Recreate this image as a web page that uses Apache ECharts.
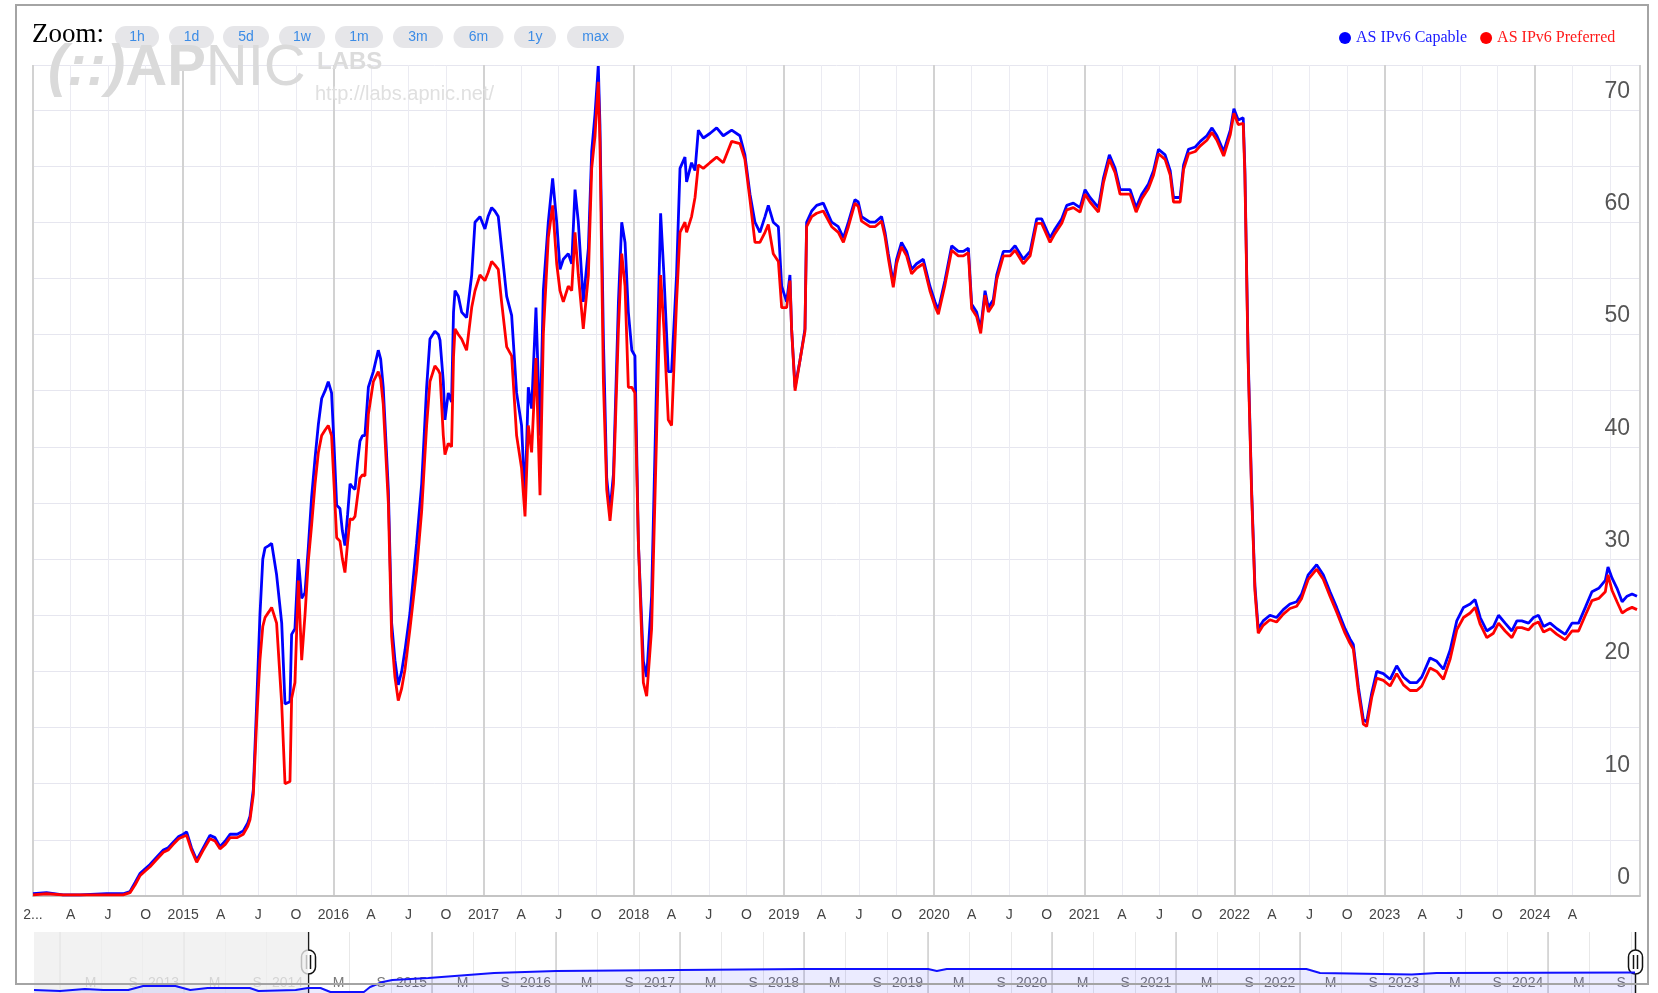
<!DOCTYPE html>
<html>
<head>
<meta charset="utf-8">
<title>AS IPv6 Capable / Preferred</title>
<script src="https://cdn.jsdelivr.net/npm/echarts@6/dist/echarts.min.js"></script>
<style>
  html, body { margin: 0; padding: 0; background: #fff; }
  #chart { width: 1658px; height: 993px; }
</style>
</head>
<body>
<div id="chart"></div>
<script>
// x values are decimal years (2015.5 = start of July 2015)
const years = [
  2014.000, 2014.090, 2014.200, 2014.313, 2014.490, 2014.600, 2014.646, 2014.680, 2014.712, 2014.745,
  2014.779, 2014.820, 2014.868, 2014.900, 2014.934, 2014.970, 2015.001, 2015.023, 2015.055, 2015.090,
  2015.130, 2015.178, 2015.212, 2015.245, 2015.280, 2015.312, 2015.360, 2015.400, 2015.430, 2015.445,
  2015.467, 2015.489, 2015.511, 2015.530, 2015.545, 2015.570, 2015.589, 2015.622, 2015.656, 2015.678,
  2015.711, 2015.722, 2015.744, 2015.767, 2015.789, 2015.811, 2015.833, 2015.855, 2015.878, 2015.900,
  2015.922, 2015.945, 2015.966, 2015.988, 2016.005, 2016.022, 2016.044, 2016.060, 2016.077, 2016.095,
  2016.111, 2016.128, 2016.144, 2016.160, 2016.177, 2016.194, 2016.210, 2016.233, 2016.266, 2016.299,
  2016.315, 2016.332, 2016.366, 2016.388, 2016.410, 2016.432, 2016.455, 2016.477, 2016.510, 2016.554,
  2016.588, 2016.621, 2016.643, 2016.676, 2016.699, 2016.710, 2016.732, 2016.743, 2016.765, 2016.787,
  2016.800, 2016.810, 2016.832, 2016.854, 2016.887, 2016.921, 2016.943, 2016.976, 2017.009, 2017.030,
  2017.054, 2017.075, 2017.098, 2017.120, 2017.154, 2017.187, 2017.220, 2017.253, 2017.276, 2017.298,
  2017.320, 2017.349, 2017.376, 2017.398, 2017.431, 2017.460, 2017.487, 2017.509, 2017.531, 2017.564,
  2017.587, 2017.609, 2017.631, 2017.664, 2017.698, 2017.720, 2017.742, 2017.764, 2017.775, 2017.798,
  2017.820, 2017.842, 2017.865, 2017.898, 2017.920, 2017.942, 2017.964, 2017.987, 2018.008, 2018.031,
  2018.064, 2018.086, 2018.119, 2018.152, 2018.179, 2018.201, 2018.230, 2018.252, 2018.285, 2018.308,
  2018.341, 2018.352, 2018.385, 2018.408, 2018.430, 2018.463, 2018.507, 2018.552, 2018.596, 2018.652,
  2018.707, 2018.740, 2018.774, 2018.807, 2018.840, 2018.874, 2018.896, 2018.929, 2018.963, 2018.985,
  2019.018, 2019.040, 2019.051, 2019.074, 2019.107, 2019.140, 2019.151, 2019.185, 2019.218, 2019.262,
  2019.318, 2019.362, 2019.396, 2019.429, 2019.473, 2019.495, 2019.517, 2019.573, 2019.606, 2019.650,
  2019.673, 2019.695, 2019.728, 2019.750, 2019.783, 2019.817, 2019.850, 2019.883, 2019.928, 2019.972,
  2020.006, 2020.028, 2020.072, 2020.117, 2020.161, 2020.195, 2020.228, 2020.250, 2020.283, 2020.310,
  2020.339, 2020.361, 2020.394, 2020.417, 2020.461, 2020.506, 2020.539, 2020.594, 2020.639, 2020.683,
  2020.716, 2020.772, 2020.805, 2020.850, 2020.883, 2020.927, 2020.972, 2021.005, 2021.038, 2021.094,
  2021.127, 2021.167, 2021.205, 2021.238, 2021.272, 2021.305, 2021.345, 2021.383, 2021.427, 2021.461,
  2021.494, 2021.538, 2021.572, 2021.594, 2021.638, 2021.661, 2021.694, 2021.739, 2021.772, 2021.816,
  2021.850, 2021.883, 2021.928, 2021.972, 2021.996, 2022.025, 2022.058, 2022.069, 2022.091, 2022.114,
  2022.136, 2022.158, 2022.191, 2022.236, 2022.280, 2022.325, 2022.369, 2022.414, 2022.447, 2022.491,
  2022.547, 2022.591, 2022.636, 2022.680, 2022.736, 2022.769, 2022.791, 2022.825, 2022.858, 2022.880,
  2022.914, 2022.947, 2022.991, 2023.036, 2023.080, 2023.125, 2023.169, 2023.214, 2023.247, 2023.302,
  2023.347, 2023.391, 2023.436, 2023.480, 2023.525, 2023.569, 2023.602, 2023.636, 2023.680, 2023.724,
  2023.758, 2023.802, 2023.847, 2023.880, 2023.913, 2023.958, 2023.991, 2024.024, 2024.058, 2024.102,
  2024.147, 2024.202, 2024.247, 2024.291, 2024.336, 2024.380, 2024.425, 2024.469, 2024.487, 2024.514,
  2024.547, 2024.581, 2024.614, 2024.647, 2024.680
];

// AS IPv6 Capable (%)
const capable = [
  0.2, 0.3, 0.1, 0.1, 0.2, 0.2, 0.4, 1.2, 2.0, 2.4,
  2.8, 3.4, 4.1, 4.3, 4.8, 5.3, 5.5, 5.7, 4.3, 3.2,
  4.2, 5.4, 5.2, 4.4, 4.9, 5.5, 5.5, 5.8, 6.5, 7.1,
  9.5, 17.0, 25.0, 30.0, 31.0, 31.2, 31.4, 28.6, 24.3, 17.1,
  17.3, 23.3, 23.8, 30.0, 26.5, 27.0, 31.0, 35.5, 39.0, 42.0,
  44.3, 45.0, 45.8, 44.8, 40.0, 34.8, 34.5, 32.5, 31.2, 34.0,
  36.7, 36.4, 36.2, 38.5, 40.5, 41.0, 41.0, 45.3, 46.7, 48.6,
  47.8, 45.3, 36.2, 24.3, 21.0, 18.8, 20.0, 21.9, 25.2, 31.4,
  36.7, 45.3, 49.6, 50.3, 50.0, 49.5, 45.8, 42.4, 44.8, 44.0,
  52.0, 53.9, 53.4, 52.0, 51.5, 55.3, 60.0, 60.5, 59.4, 60.5,
  61.3, 61.0, 60.5, 57.7, 53.4, 51.7, 44.8, 41.9, 35.3, 45.3,
  43.4, 52.4, 41.0, 53.9, 60.0, 63.9, 60.0, 55.8, 56.7, 57.2,
  56.3, 62.9, 60.0, 52.9, 57.7, 66.3, 69.6, 73.9, 68.7, 49.6,
  37.2, 34.3, 37.6, 52.9, 60.0, 58.2, 52.0, 48.6, 48.1, 31.4,
  20.9, 19.5, 26.7, 45.8, 60.8, 55.3, 46.7, 46.7, 55.3, 64.8,
  65.8, 63.6, 65.3, 64.6, 68.2, 67.5, 67.9, 68.4, 67.7, 68.2,
  67.7, 66.0, 62.5, 60.0, 59.1, 60.5, 61.5, 60.0, 59.6, 54.3,
  52.9, 55.3, 50.5, 45.3, 47.7, 50.5, 60.0, 61.0, 61.5, 61.7,
  60.0, 59.6, 58.6, 60.0, 62.0, 61.8, 60.5, 60.0, 60.0, 60.5,
  59.1, 57.2, 54.6, 56.7, 58.2, 57.4, 55.8, 56.3, 56.7, 54.3,
  52.9, 52.2, 54.8, 57.9, 57.4, 57.4, 57.7, 52.7, 52.0, 50.5,
  53.9, 52.4, 53.1, 55.3, 57.4, 57.4, 57.9, 56.7, 57.4, 60.3,
  60.3, 58.6, 59.4, 60.3, 61.5, 61.7, 61.3, 62.9, 62.2, 61.3,
  63.9, 66.0, 64.8, 62.9, 62.9, 62.9, 61.3, 62.5, 63.4, 64.6,
  66.5, 66.0, 64.6, 62.2, 62.2, 65.1, 66.5, 66.7, 67.2, 67.7,
  68.4, 67.7, 66.3, 68.2, 70.1, 69.1, 69.3, 64.8, 48.1, 36.2,
  27.6, 23.8, 24.5, 25.0, 24.8, 25.5, 26.0, 26.2, 26.9, 28.6,
  29.5, 28.6, 27.1, 25.7, 23.8, 22.9, 22.4, 18.6, 15.7, 15.5,
  18.1, 20.0, 19.8, 19.3, 20.5, 19.5, 19.0, 19.0, 19.5, 21.2,
  20.9, 20.2, 21.9, 24.5, 25.7, 26.0, 26.4, 24.8, 23.6, 24.0,
  25.0, 24.3, 23.6, 24.5, 24.5, 24.3, 24.8, 25.0, 24.0, 24.3,
  23.8, 23.3, 24.3, 24.3, 25.7, 27.1, 27.4, 28.1, 29.3, 28.3,
  27.4, 26.2, 26.7, 26.9, 26.7
];

// AS IPv6 Preferred (%)
const preferred = [
  0.1, 0.2, 0.1, 0.1, 0.1, 0.1, 0.3, 1.0, 1.8, 2.2,
  2.6, 3.2, 3.9, 4.1, 4.6, 5.1, 5.3, 5.4, 4.1, 3.0,
  4.0, 5.1, 4.9, 4.2, 4.6, 5.2, 5.2, 5.5, 6.2, 6.8,
  9.0, 15.5, 21.0, 24.0, 24.8, 25.3, 25.7, 24.3, 17.1, 10.0,
  10.2, 17.6, 19.0, 28.1, 21.0, 25.0, 29.8, 33.0, 36.7, 39.5,
  41.0, 41.5, 41.9, 41.0, 36.5, 31.9, 31.6, 30.0, 28.8, 31.5,
  33.6, 33.5, 33.8, 35.5, 37.2, 37.5, 37.4, 42.9, 45.8, 46.7,
  46.0, 43.8, 35.0, 23.1, 19.5, 17.4, 18.5, 20.2, 23.8, 29.0,
  34.3, 41.9, 45.8, 47.2, 46.8, 46.5, 41.0, 39.3, 40.3, 40.0,
  48.0, 50.5, 50.0, 49.6, 48.6, 52.4, 53.9, 55.3, 54.8, 55.5,
  56.5, 56.2, 55.8, 52.9, 48.9, 48.1, 41.0, 38.1, 33.8, 41.9,
  39.5, 47.9, 35.7, 50.0, 58.6, 61.5, 56.3, 53.9, 52.9, 54.3,
  53.9, 59.1, 55.3, 50.5, 55.3, 64.8, 67.7, 72.5, 67.2, 45.8,
  36.2, 33.4, 36.7, 50.5, 57.2, 54.3, 45.3, 45.3, 44.8, 31.4,
  19.0, 17.8, 23.8, 41.0, 55.3, 50.5, 42.4, 41.9, 52.9, 59.1,
  60.0, 59.1, 60.5, 62.2, 65.1, 64.8, 65.3, 65.8, 65.3, 67.2,
  67.0, 65.6, 62.0, 58.2, 58.2, 59.1, 59.8, 57.2, 56.5, 52.4,
  52.4, 54.8, 50.5, 45.0, 47.7, 50.3, 59.6, 60.5, 60.8, 61.0,
  59.6, 59.1, 58.2, 59.6, 61.7, 61.4, 60.1, 59.6, 59.6, 60.1,
  58.7, 56.8, 54.2, 56.3, 57.8, 57.0, 55.4, 55.9, 56.3, 53.9,
  52.5, 51.8, 54.4, 57.5, 57.0, 57.0, 57.3, 52.3, 51.6, 50.1,
  53.5, 52.0, 52.7, 54.9, 57.0, 57.0, 57.5, 56.3, 57.0, 59.9,
  59.9, 58.2, 59.0, 59.9, 61.1, 61.3, 60.9, 62.5, 61.8, 60.9,
  63.5, 65.6, 64.4, 62.5, 62.5, 62.5, 60.9, 62.1, 63.0, 64.2,
  66.1, 65.6, 64.2, 61.8, 61.8, 64.7, 66.1, 66.3, 66.8, 67.3,
  68.0, 67.3, 65.9, 67.8, 69.7, 68.7, 68.8, 64.3, 47.6, 35.8,
  27.2, 23.4, 24.1, 24.6, 24.4, 25.1, 25.6, 25.8, 26.5, 28.2,
  29.1, 28.2, 26.7, 25.3, 23.4, 22.5, 22.0, 18.2, 15.3, 15.1,
  17.7, 19.4, 19.2, 18.7, 19.8, 18.8, 18.3, 18.3, 18.7, 20.3,
  20.0, 19.3, 21.1, 23.7, 24.8, 25.2, 25.7, 24.2, 23.0, 23.4,
  24.3, 23.6, 23.0, 23.9, 23.9, 23.7, 24.2, 24.4, 23.5, 23.8,
  23.3, 22.8, 23.6, 23.6, 25.0, 26.3, 26.5, 27.1, 28.6, 27.2,
  26.2, 25.2, 25.5, 25.7, 25.5
];

// navigator strip (overview of the whole period, own vertical scale)
const navYears = [
  2011.79, 2012.00, 2012.20, 2012.35, 2012.55, 2012.67, 2012.93, 2013.05, 2013.19, 2013.53,
  2013.60, 2013.90, 2014.00, 2014.10, 2014.18, 2014.45, 2014.50, 2014.60, 2014.68, 2014.97,
  2015.50, 2016.00, 2017.00, 2018.00, 2019.00, 2019.07, 2019.15, 2022.05, 2022.16, 2022.90,
  2023.10, 2024.70
];
const navValues = [
  4.9, 3.3, 6.6, 4.9, 4.9, 11.5, 11.5, 4.9, 8.2, 8.2,
  3.3, 4.9, 8.2, 8.2, 1.6, 1.6, 9.8, 18.0, 21.3, 24.6,
  32.8, 36.1, 37.7, 39.3, 39.3, 36.1, 39.3, 39.3, 32.8, 30.3,
  32.8, 33.6
];

const seriesNames = ['AS IPv6 Capable', 'AS IPv6 Preferred'];
const zoomButtons = ['1h', '1d', '5d', '1w', '1m', '3m', '6m', '1y', 'max'];
const quarterLabels = ['', 'A', 'J', 'O'];   // Jan shows the year
const navMonthLabels = ['', 'M', 'S'];       // Jan shows the year

const mainMin = 2014.0;
const mainMax = 2024.70;
const lastLabel = 2024.25;   // labels past this one are dropped (too close to the edge)
const navMin = 2011.79;
const navMax = 2024.74;

// layout of the zoom buttons (center x, width)
const btnCenters = [137, 191.5, 246, 302, 359, 418, 478.5, 535, 595.5];
const btnWidths = [44, 45, 46, 46, 48, 50, 50, 42, 57];

function quarterLabel(v) {
  if (Math.abs(v * 4 - Math.round(v * 4)) > 1e-6) return '';
  if (v > lastLabel + 1e-6) return '';
  if (Math.abs(v - mainMin) < 1e-6) return '2...';
  const k = Math.round(v * 4);
  const q = ((k % 4) + 4) % 4;
  return q === 0 ? String(k / 4) : quarterLabels[q];
}

function navLabel(v) {
  const k = Math.round(v * 3);
  const r = ((k % 3) + 3) % 3;
  return r === 0 ? String(k / 3) : navMonthLabels[r];
}

let navTicks = [];
for (let k = Math.ceil(navMin * 3); k <= Math.floor(navMax * 3); k++) navTicks.push(k / 3);
const navYearTicks = navTicks.filter(v => Math.abs(v - Math.round(v)) < 1e-6);
const navLabelTicks = navTicks.filter(v => v > 2012.1);

const capData = years.map((x, i) => [x, capable[i]]);
const prefData = years.map((x, i) => [x, preferred[i]]);
const navData = navYears.map((x, i) => [x, navValues[i]]);

const chart = echarts.init(document.getElementById('chart'));

let option = {
  animation: false,
  backgroundColor: '#fff',
  legend: {
    left: 1334,
    top: 25,
    icon: 'circle',
    itemWidth: 12,
    itemHeight: 12,
    itemGap: 13,
    data: [
      { name: seriesNames[0], textStyle: { color: '#1a1aff' } },
      { name: seriesNames[1], textStyle: { color: '#ff1a1a' } }
    ],
    textStyle: { fontFamily: 'Liberation Serif', fontSize: 16 }
  },
  grid: [
    { left: 33, right: 18, top: 65, bottom: 97 },
    { left: 34, right: 18, top: 932, bottom: 0 }
  ],
  xAxis: [
    {
      type: 'value', gridIndex: 0, min: mainMin, max: mainMax, interval: 0.25,
      axisLine: { lineStyle: { color: '#c4c4c4', width: 2 } },
      axisTick: { show: false },
      axisLabel: {
        formatter: quarterLabel, color: '#444', fontFamily: 'Liberation Sans',
        fontSize: 14, margin: 12, showMaxLabel: false
      },
      splitLine: { show: true, lineStyle: { color: '#ebebf2', width: 1 } }
    },
    {
      // year lines, drawn a bit darker
      type: 'value', gridIndex: 0, position: 'top', min: mainMin, max: mainMax, interval: 1,
      axisLine: { show: false }, axisTick: { show: false }, axisLabel: { show: false },
      splitLine: { show: true, lineStyle: { color: '#d2d2d2', width: 2 } }
    },
    {
      type: 'value', gridIndex: 1, min: navMin, max: navMax,
      axisLine: { show: false },
      axisTick: { show: false, customValues: navTicks },
      axisLabel: {
        customValues: navLabelTicks, formatter: navLabel, inside: true, margin: 3,
        align: 'right', padding: [0, 5, 0, 0],
        color: '#777', fontFamily: 'Liberation Sans', fontSize: 14
      },
      splitLine: { show: true, lineStyle: { color: '#e8e8e8', width: 1 } }
    },
    {
      type: 'value', gridIndex: 1, position: 'top', min: navMin, max: navMax,
      axisLine: { show: false },
      axisTick: { show: false, customValues: navYearTicks },
      axisLabel: { show: false },
      splitLine: { show: true, lineStyle: { color: '#cfcfcf', width: 1.5 } }
    }
  ],
  yAxis: [
    {
      type: 'value', gridIndex: 0, position: 'right', min: 0, max: 74, interval: 5,
      axisLine: { show: false }, axisTick: { show: false },
      axisLabel: {
        inside: true, margin: 10, showMaxLabel: false,
        formatter: v => (v % 10 === 0 ? String(v) : ''),
        color: '#555', fontFamily: 'Liberation Sans', fontSize: 23,
        verticalAlign: 'bottom', lineHeight: 37
      },
      splitLine: { show: true, lineStyle: { color: '#e6e6ef', width: 1 } }
    },
    {
      type: 'value', gridIndex: 1, min: 0, max: 100, show: false,
      splitLine: { show: false }
    }
  ],
  series: [
    {
      name: seriesNames[0], type: 'line', xAxisIndex: 0, yAxisIndex: 0,
      data: capData, symbol: 'none', color: '#0000ff',
      lineStyle: { width: 2.8, color: '#0000ff' }, z: 3
    },
    {
      name: seriesNames[1], type: 'line', xAxisIndex: 0, yAxisIndex: 0,
      data: prefData, symbol: 'none', color: '#ff0000',
      lineStyle: { width: 2.8, color: '#ff0000' }, z: 4
    },
    {
      name: 'navigator', type: 'line', xAxisIndex: 2, yAxisIndex: 1,
      data: navData, symbol: 'none', color: '#0000ff',
      lineStyle: { width: 2, color: '#1010ff' },
      areaStyle: { color: 'rgba(0,0,255,0.11)' },
      markArea: {
        silent: true,
        itemStyle: { color: 'rgba(238,238,238,0.78)' },
        data: [[{ xAxis: navMin }, { xAxis: mainMin }]]
      }
    }
  ]
};

chart.setOption(option);

// decorations: frame, zoom buttons, watermark, navigator handles
let graphics = [];

graphics.push({
  type: 'text', left: 32, top: 21, z: 10,
  style: { text: 'Zoom:', font: '27px "Liberation Serif"', fill: '#000' }
});

zoomButtons.forEach((b, i) => {
  graphics.push({
    type: 'group', z: 10,
    children: [
      {
        type: 'rect',
        shape: { x: btnCenters[i] - btnWidths[i] / 2, y: 26, width: btnWidths[i], height: 22, r: 11 },
        style: { fill: '#e6e6e9' }
      },
      {
        type: 'text', x: btnCenters[i], y: 37,
        style: {
          text: b, font: '14px "Liberation Sans"', fill: '#3c8ce6',
          textAlign: 'center', textVerticalAlign: 'middle'
        }
      }
    ]
  });
});

graphics.push({
  type: 'text', x: 48, y: 98, z: 1, silent: true,
  style: {
    text: '{a|(::)}{b|AP}{c|NIC}',
    textVerticalAlign: 'bottom',
    rich: {
      a: { font: 'italic bold 58px "Liberation Sans"', fill: '#dadada' },
      b: { font: 'bold 58px "Liberation Sans"', fill: '#dadada' },
      c: { font: '58px "Liberation Sans"', fill: '#dadada' }
    }
  }
});
graphics.push({
  type: 'text', x: 317, y: 74, z: 1, silent: true,
  style: { text: 'LABS', font: 'bold 24px "Liberation Sans"', fill: '#dcdcdc', textVerticalAlign: 'bottom' }
});
graphics.push({
  type: 'text', x: 315, y: 104, z: 1, silent: true,
  style: { text: 'http://labs.apnic.net/', font: '20px "Liberation Sans"', fill: '#e0e0e0', textVerticalAlign: 'bottom' }
});

// outer frame of the chart container
graphics.push({
  type: 'rect', z: 20, silent: true,
  shape: { x: 16, y: 5, width: 1632, height: 979 },
  style: { fill: 'none', stroke: '#a4a4a4', lineWidth: 2 }
});

[mainMin, mainMax].forEach(v => {
  const px = Math.round(chart.convertToPixel({ xAxisIndex: 2 }, v)) + 0.5;
  graphics.push({
    type: 'group', z: 21,
    children: [
      { type: 'line', shape: { x1: px, y1: 932, x2: px, y2: 993 }, style: { stroke: '#111', lineWidth: 1.5 } },
      { type: 'rect', shape: { x: px - 7, y: 950, width: 14, height: 24, r: 7 }, style: { fill: '#fff', stroke: '#111', lineWidth: 1.5 } },
      { type: 'line', shape: { x1: px - 2, y1: 955, x2: px - 2, y2: 969 }, style: { stroke: '#111', lineWidth: 1.5 } },
      { type: 'line', shape: { x1: px + 2, y1: 955, x2: px + 2, y2: 969 }, style: { stroke: '#111', lineWidth: 1.5 } }
    ]
  });
});

chart.setOption({ graphic: graphics });
</script>
</body>
</html>
